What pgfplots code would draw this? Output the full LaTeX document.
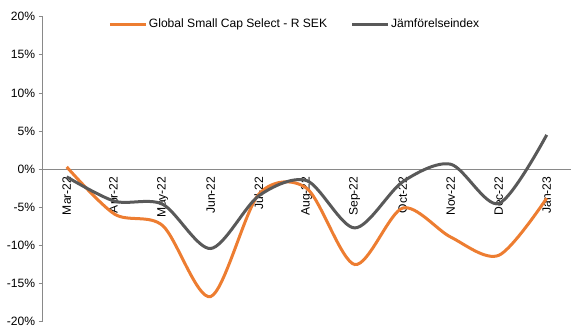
\documentclass[border=0pt]{standalone}
\usepackage{pgfplots}
\pgfplotsset{compat=1.18}
\usepackage{fontspec}
\setmainfont{Liberation Sans}
\definecolor{sorange}{HTML}{ED7D31}
\definecolor{sgray}{HTML}{595959}
\definecolor{axgray}{HTML}{898989}
\begin{document}
\begin{tikzpicture}[font=\fontsize{12.1bp}{14bp}\selectfont]
\useasboundingbox (-42.7bp,-14.3bp) rectangle (535.3bp,321.7bp);
\begin{axis}[
 at={(0,0)}, anchor=south west,
 scale only axis, width=528bp, height=305bp,
 xmin=-0.5, xmax=10.5, ymin=-20, ymax=20,
 axis x line=middle, axis y line=left,
 axis line style={-, draw=axgray, line width=0.75bp},
 xtick={0,...,10},
 xticklabels={Mar-22,Apr-22,May-22,Jun-22,Jul-22,Aug-22,Sep-22,Oct-22,Nov-22,Dec-22,Jan-23},
 x tick label style={rotate=90, anchor=east},
 x tick style={draw=none},
 ytick={-20,-15,...,20},
 yticklabels={-20\%,-15\%,-10\%,-5\%,0\%,5\%,10\%,15\%,20\%},
 y tick style={draw=axgray, line width=0.75bp},
 tick align=outside, major tick length=4bp,
 legend style={at={(0.477,0.976)}, anchor=center, draw=none, fill=none,
   /tikz/every even column/.append style={column sep=22bp}, nodes={inner sep=1.5bp}},
 legend columns=2,
 legend image code/.code={\draw[#1] (0bp,0bp) -- (36bp,0bp);},
]
\addplot[sorange, line width=3bp, smooth] coordinates {
 (0,0.3) (1,-5.9) (2,-7.4) (3,-16.7) (4,-3.3) (5,-2.5) (6,-12.5) (7,-5.1) (8,-8.9) (9,-11.3) (10,-3.8)};
\addlegendentry{Global Small Cap Select - R SEK}
\addplot[sgray, line width=3bp, smooth] coordinates {
 (0,-1.0) (1,-4.2) (2,-4.6) (3,-10.4) (4,-3.5) (5,-1.5) (6,-7.7) (7,-1.65) (8,0.65) (9,-4.5) (10,4.5)};
\addlegendentry{Jämförelseindex}
\end{axis}
\end{tikzpicture}
\end{document}
